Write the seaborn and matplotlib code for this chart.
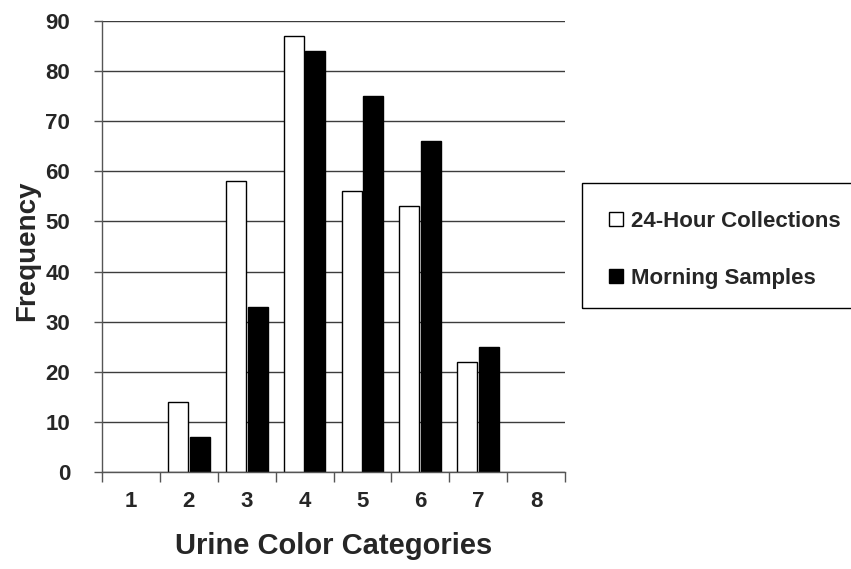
import matplotlib
matplotlib.use("Agg")
import matplotlib.pyplot as plt
import matplotlib.patches as mpatches
from matplotlib.ticker import FixedLocator
import pandas as pd
import seaborn as sns

# Values
CATEGORIES = ["1", "2", "3", "4", "5", "6", "7", "8"]
COLLECTIONS_24H = [0, 14, 58, 87, 56, 53, 22, 0]
MORNING_SAMPLES = [0, 7, 33, 84, 75, 66, 25, 0]
SERIES_NAMES = ["24-Hour Collections", "Morning Samples"]
SERIES_COLORS = ["white", "black"]
Y_TICKS = list(range(0, 91, 10))

W, H = 851, 569


def build_frame():
    n = len(CATEGORIES)
    df = pd.DataFrame({
        "Category": CATEGORIES * 2,
        "Frequency": COLLECTIONS_24H + MORNING_SAMPLES,
        "Series": [SERIES_NAMES[0]] * n + [SERIES_NAMES[1]] * n,
    })
    # empty categories keep their slot through `order`, but no flat bar is drawn
    return df[df["Frequency"] > 0]


def main():
    df = build_frame()

    sns.set_style("white")
    # Arial-like bold text (set after set_style, which resets font.family)
    plt.rcParams["font.family"] = ["Liberation Sans", "DejaVu Sans"]
    plt.rcParams["font.weight"] = "bold"

    fig = plt.figure(figsize=(W / 100, H / 100), dpi=100)
    # plot area in pixels: x 102..565, y 21..472
    ax = fig.add_axes([102 / W, 1 - 472 / H, 463 / W, 451 / H])

    sns.barplot(data=df, x="Category", y="Frequency", hue="Series",
                order=CATEGORIES, hue_order=SERIES_NAMES, palette=SERIES_COLORS,
                width=0.75, gap=0.08, saturation=1, errorbar=None,
                edgecolor="black", linewidth=1, legend=False, ax=ax)

    ax.set_xlim(-0.5, len(CATEGORIES) - 0.5)
    ax.set_ylim(0, 90)

    # Gridlines behind the bars
    ax.set_axisbelow(True)
    ax.yaxis.grid(True, color="#3c3c3c", linewidth=1)
    ax.xaxis.grid(False)

    for side in ["top", "right"]:
        ax.spines[side].set_visible(False)
    for side in ["left", "bottom"]:
        ax.spines[side].set_color("#555555")
        ax.spines[side].set_linewidth(1)

    ax.set_yticks(Y_TICKS)
    ax.tick_params(axis="y", left=True, direction="out", length=6, width=1,
                   color="#555555", pad=17, labelsize=16)
    # category labels centred, tick marks between categories (Excel style)
    ax.tick_params(axis="x", which="major", length=0, pad=14, labelsize=16)
    ax.xaxis.set_minor_locator(FixedLocator([i - 0.5 for i in range(len(CATEGORIES) + 1)]))
    ax.tick_params(axis="x", which="minor", bottom=True, direction="out",
                   length=7, width=1, color="#555555")

    ax.set_xlabel("Urine Color Categories", fontsize=21, fontweight="bold", va="center")
    ax.set_ylabel("Frequency", fontsize=20, fontweight="bold", va="center")
    ax.xaxis.set_label_coords(0.5, (472 - 546) / 451)
    ax.yaxis.set_label_coords((27 - 102) / 463, 0.49)

    # Legend on the right, frame runs off the edge of the figure
    handles = [mpatches.Patch(facecolor=c, edgecolor="black", linewidth=1, label=n)
               for n, c in zip(SERIES_NAMES, SERIES_COLORS)]
    fig.legend(handles=handles, loc="upper left",
               bbox_to_anchor=(609 / W, 1 - 211 / H), frameon=False,
               fontsize=16, handlelength=0.62, handleheight=0.62,
               handletextpad=0.35, labelspacing=1.6, borderpad=0, borderaxespad=0)
    fig.add_artist(mpatches.Rectangle((582 / W, 1 - 308 / H), 0.5, 125 / H,
                                      transform=fig.transFigure, fill=False,
                                      edgecolor="black", linewidth=1))

    fig.savefig("out.png", dpi=100)
    plt.close(fig)


if __name__ == "__main__":
    main()
